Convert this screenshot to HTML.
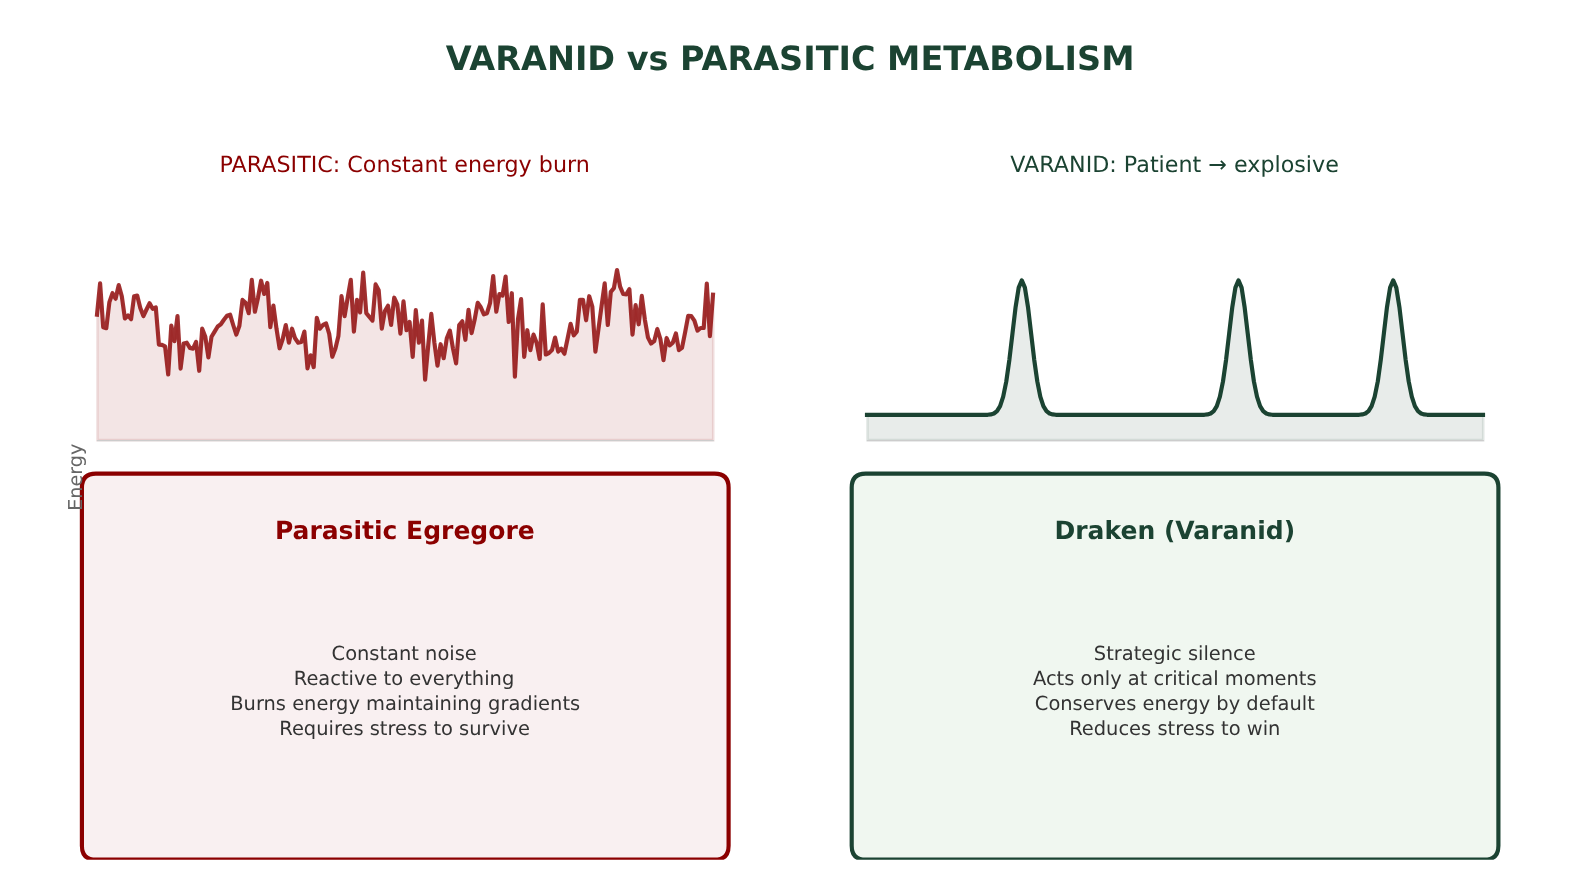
<!DOCTYPE html>
<html lang="en"><head><meta charset="utf-8"><title>VARANID vs PARASITIC METABOLISM</title>
<style>
html,body{margin:0;padding:0;background:#fff;}
body{width:1580px;height:880px;overflow:hidden;}
svg{display:block;will-change:transform;}
text{font-family:'DejaVu Sans','Liberation Sans',sans-serif;text-rendering:geometricPrecision;}
</style></head><body>
<svg width="1580" height="880" viewBox="0 0 1580 880">
<rect width="1580" height="880" fill="#ffffff"/>
<text x="790.1" y="70.0" text-anchor="middle" font-size="33.46" font-weight="bold" fill="#1b4332">VARANID vs PARASITIC METABOLISM</text>

<text x="404.7" y="171.6" text-anchor="middle" font-size="22.22" fill="#8b0000">PARASITIC: Constant energy burn</text>
<text x="1174.6" y="171.6" text-anchor="middle" font-size="22.22" fill="#1b4332">VARANID: Patient → explosive</text>


<polygon points="97.4,440.2 97.4,314.7 97.0,314.7 100.1,283.3 103.2,327.2 106.3,328.2 109.4,302.1 112.5,293.2 115.6,298.7 118.7,285.1 121.8,296.2 124.9,318.4 128.0,315.4 131.1,319.1 134.1,296.2 137.2,295.5 140.3,308.0 143.4,316.1 146.5,309.5 149.6,303.3 152.7,308.8 155.8,307.3 158.9,344.6 162.0,344.9 165.1,346.4 168.2,374.5 171.3,325.7 174.4,341.2 177.5,316.1 180.6,368.6 183.7,343.5 186.8,342.7 189.9,347.9 193.0,348.6 196.1,342.0 199.2,370.8 202.2,328.7 205.3,336.8 208.4,357.5 211.5,336.8 214.6,331.6 217.7,326.5 220.8,324.3 223.9,319.8 227.0,315.8 230.1,314.7 233.2,325.0 236.3,334.6 239.4,325.7 242.5,299.9 245.6,302.8 248.7,313.2 251.8,279.9 254.9,311.7 258.0,297.7 261.1,280.7 264.2,294.0 267.3,282.9 270.3,327.2 273.4,305.5 276.5,328.7 279.6,348.3 282.7,339.0 285.8,325.0 288.9,342.7 292.0,328.7 295.1,338.3 298.2,342.7 301.3,342.0 304.4,331.6 307.5,368.3 310.6,355.3 313.7,367.1 316.8,317.9 319.9,328.7 323.0,325.0 326.1,323.5 329.2,333.9 332.3,356.8 335.4,348.6 338.4,336.1 341.5,296.2 344.6,316.1 347.7,297.7 350.8,279.9 353.9,331.6 357.0,299.9 360.1,312.4 363.2,272.6 366.3,313.2 369.4,316.9 372.5,320.6 375.6,284.4 378.7,290.3 381.8,328.7 384.9,311.0 388.0,305.8 391.1,325.0 394.2,297.7 397.3,304.3 400.4,333.6 403.5,301.4 406.5,330.2 409.6,322.0 412.7,356.8 415.8,310.2 418.9,342.7 422.0,320.6 425.1,379.7 428.2,345.7 431.3,313.9 434.4,342.7 437.5,365.6 440.6,344.2 443.7,358.2 446.8,338.3 449.9,330.6 453.0,348.6 456.1,363.4 459.2,325.0 462.3,321.3 465.4,339.8 468.5,309.9 471.6,333.1 474.6,319.8 477.7,302.8 480.8,307.3 483.9,314.4 487.0,313.2 490.1,302.8 493.2,276.0 496.3,311.7 499.4,294.0 502.5,295.5 505.6,276.5 508.7,322.0 511.8,293.2 514.9,376.7 518.0,319.1 521.1,299.1 524.2,356.8 527.3,330.2 530.4,350.1 533.5,334.6 536.6,342.7 539.7,359.0 542.7,304.3 545.8,354.5 548.9,353.1 552.0,350.1 555.1,337.6 558.2,351.6 561.3,348.6 564.4,353.8 567.5,339.0 570.6,323.8 573.7,335.3 576.8,331.6 579.9,299.9 583.0,299.9 586.1,320.3 589.2,296.2 592.3,306.5 595.4,351.6 598.5,328.7 601.6,305.8 604.7,283.3 607.8,325.0 610.8,291.8 613.9,288.1 617.0,270.0 620.1,286.6 623.2,294.0 626.3,294.3 629.4,289.2 632.5,334.6 635.6,305.1 638.7,324.3 641.8,295.9 644.9,319.8 648.0,337.6 651.1,343.5 654.2,341.2 657.3,329.1 660.4,339.0 663.5,360.2 666.6,338.0 669.7,345.4 672.8,342.7 675.9,333.4 678.9,350.1 682.0,347.9 685.1,332.4 688.2,315.8 691.3,316.1 694.4,320.6 697.5,330.6 700.6,328.0 703.7,328.0 706.8,283.6 709.9,336.1 713.0,294.7 713.3,294.7 713.3,440.2" fill="#8b0000" fill-opacity="0.1" stroke="#8b0000" stroke-opacity="0.1" stroke-width="2.78" stroke-linejoin="miter"/>
<line x1="96.9" y1="440.55" x2="713.9" y2="440.55" stroke="#cccccc" stroke-width="1.25"/>
<polyline points="97.0,314.7 100.1,283.3 103.2,327.2 106.3,328.2 109.4,302.1 112.5,293.2 115.6,298.7 118.7,285.1 121.8,296.2 124.9,318.4 128.0,315.4 131.1,319.1 134.1,296.2 137.2,295.5 140.3,308.0 143.4,316.1 146.5,309.5 149.6,303.3 152.7,308.8 155.8,307.3 158.9,344.6 162.0,344.9 165.1,346.4 168.2,374.5 171.3,325.7 174.4,341.2 177.5,316.1 180.6,368.6 183.7,343.5 186.8,342.7 189.9,347.9 193.0,348.6 196.1,342.0 199.2,370.8 202.2,328.7 205.3,336.8 208.4,357.5 211.5,336.8 214.6,331.6 217.7,326.5 220.8,324.3 223.9,319.8 227.0,315.8 230.1,314.7 233.2,325.0 236.3,334.6 239.4,325.7 242.5,299.9 245.6,302.8 248.7,313.2 251.8,279.9 254.9,311.7 258.0,297.7 261.1,280.7 264.2,294.0 267.3,282.9 270.3,327.2 273.4,305.5 276.5,328.7 279.6,348.3 282.7,339.0 285.8,325.0 288.9,342.7 292.0,328.7 295.1,338.3 298.2,342.7 301.3,342.0 304.4,331.6 307.5,368.3 310.6,355.3 313.7,367.1 316.8,317.9 319.9,328.7 323.0,325.0 326.1,323.5 329.2,333.9 332.3,356.8 335.4,348.6 338.4,336.1 341.5,296.2 344.6,316.1 347.7,297.7 350.8,279.9 353.9,331.6 357.0,299.9 360.1,312.4 363.2,272.6 366.3,313.2 369.4,316.9 372.5,320.6 375.6,284.4 378.7,290.3 381.8,328.7 384.9,311.0 388.0,305.8 391.1,325.0 394.2,297.7 397.3,304.3 400.4,333.6 403.5,301.4 406.5,330.2 409.6,322.0 412.7,356.8 415.8,310.2 418.9,342.7 422.0,320.6 425.1,379.7 428.2,345.7 431.3,313.9 434.4,342.7 437.5,365.6 440.6,344.2 443.7,358.2 446.8,338.3 449.9,330.6 453.0,348.6 456.1,363.4 459.2,325.0 462.3,321.3 465.4,339.8 468.5,309.9 471.6,333.1 474.6,319.8 477.7,302.8 480.8,307.3 483.9,314.4 487.0,313.2 490.1,302.8 493.2,276.0 496.3,311.7 499.4,294.0 502.5,295.5 505.6,276.5 508.7,322.0 511.8,293.2 514.9,376.7 518.0,319.1 521.1,299.1 524.2,356.8 527.3,330.2 530.4,350.1 533.5,334.6 536.6,342.7 539.7,359.0 542.7,304.3 545.8,354.5 548.9,353.1 552.0,350.1 555.1,337.6 558.2,351.6 561.3,348.6 564.4,353.8 567.5,339.0 570.6,323.8 573.7,335.3 576.8,331.6 579.9,299.9 583.0,299.9 586.1,320.3 589.2,296.2 592.3,306.5 595.4,351.6 598.5,328.7 601.6,305.8 604.7,283.3 607.8,325.0 610.8,291.8 613.9,288.1 617.0,270.0 620.1,286.6 623.2,294.0 626.3,294.3 629.4,289.2 632.5,334.6 635.6,305.1 638.7,324.3 641.8,295.9 644.9,319.8 648.0,337.6 651.1,343.5 654.2,341.2 657.3,329.1 660.4,339.0 663.5,360.2 666.6,338.0 669.7,345.4 672.8,342.7 675.9,333.4 678.9,350.1 682.0,347.9 685.1,332.4 688.2,315.8 691.3,316.1 694.4,320.6 697.5,330.6 700.6,328.0 703.7,328.0 706.8,283.6 709.9,336.1 713.0,294.7" fill="none" stroke="#8b0000" stroke-opacity="0.8" stroke-width="4.17" stroke-linejoin="round" stroke-linecap="square"/>

<polygon points="867.4,440.2 867.4,414.9 867.0,414.9 870.1,414.9 873.2,414.9 876.3,414.9 879.4,414.9 882.5,414.9 885.6,414.9 888.7,414.9 891.8,414.9 894.9,414.9 898.0,414.9 901.1,414.9 904.1,414.9 907.2,414.9 910.3,414.9 913.4,414.9 916.5,414.9 919.6,414.9 922.7,414.9 925.8,414.9 928.9,414.9 932.0,414.9 935.1,414.9 938.2,414.9 941.3,414.9 944.4,414.9 947.5,414.9 950.6,414.9 953.7,414.9 956.8,414.9 959.9,414.9 963.0,414.9 966.1,414.9 969.2,414.9 972.2,414.9 975.3,414.9 978.4,414.9 981.5,414.9 984.6,414.9 987.7,414.8 990.8,414.4 993.9,413.5 997.0,411.1 1000.1,406.1 1003.2,396.7 1006.3,381.4 1009.4,359.6 1012.5,333.3 1015.6,307.1 1018.7,287.6 1021.8,280.3 1024.9,287.6 1028.0,307.1 1031.1,333.3 1034.2,359.6 1037.3,381.4 1040.3,396.7 1043.4,406.1 1046.5,411.1 1049.6,413.5 1052.7,414.4 1055.8,414.8 1058.9,414.9 1062.0,414.9 1065.1,414.9 1068.2,414.9 1071.3,414.9 1074.4,414.9 1077.5,414.9 1080.6,414.9 1083.7,414.9 1086.8,414.9 1089.9,414.9 1093.0,414.9 1096.1,414.9 1099.2,414.9 1102.3,414.9 1105.4,414.9 1108.4,414.9 1111.5,414.9 1114.6,414.9 1117.7,414.9 1120.8,414.9 1123.9,414.9 1127.0,414.9 1130.1,414.9 1133.2,414.9 1136.3,414.9 1139.4,414.9 1142.5,414.9 1145.6,414.9 1148.7,414.9 1151.8,414.9 1154.9,414.9 1158.0,414.9 1161.1,414.9 1164.2,414.9 1167.3,414.9 1170.4,414.9 1173.5,414.9 1176.5,414.9 1179.6,414.9 1182.7,414.9 1185.8,414.9 1188.9,414.9 1192.0,414.9 1195.1,414.9 1198.2,414.9 1201.3,414.9 1204.4,414.8 1207.5,414.4 1210.6,413.5 1213.7,411.1 1216.8,406.1 1219.9,396.7 1223.0,381.4 1226.1,359.6 1229.2,333.3 1232.3,307.1 1235.4,287.6 1238.5,280.3 1241.6,287.6 1244.6,307.1 1247.7,333.3 1250.8,359.6 1253.9,381.4 1257.0,396.7 1260.1,406.1 1263.2,411.1 1266.3,413.5 1269.4,414.4 1272.5,414.8 1275.6,414.9 1278.7,414.9 1281.8,414.9 1284.9,414.9 1288.0,414.9 1291.1,414.9 1294.2,414.9 1297.3,414.9 1300.4,414.9 1303.5,414.9 1306.6,414.9 1309.7,414.9 1312.7,414.9 1315.8,414.9 1318.9,414.9 1322.0,414.9 1325.1,414.9 1328.2,414.9 1331.3,414.9 1334.4,414.9 1337.5,414.9 1340.6,414.9 1343.7,414.9 1346.8,414.9 1349.9,414.9 1353.0,414.9 1356.1,414.9 1359.2,414.8 1362.3,414.4 1365.4,413.5 1368.5,411.1 1371.6,406.1 1374.7,396.7 1377.8,381.4 1380.8,359.6 1383.9,333.3 1387.0,307.1 1390.1,287.6 1393.2,280.3 1396.3,287.6 1399.4,307.1 1402.5,333.3 1405.6,359.6 1408.7,381.4 1411.8,396.7 1414.9,406.1 1418.0,411.1 1421.1,413.5 1424.2,414.4 1427.3,414.8 1430.4,414.9 1433.5,414.9 1436.6,414.9 1439.7,414.9 1442.8,414.9 1445.9,414.9 1448.9,414.9 1452.0,414.9 1455.1,414.9 1458.2,414.9 1461.3,414.9 1464.4,414.9 1467.5,414.9 1470.6,414.9 1473.7,414.9 1476.8,414.9 1479.9,414.9 1483.0,414.9 1483.3,414.9 1483.3,440.2" fill="#1b4332" fill-opacity="0.1" stroke="#1b4332" stroke-opacity="0.1" stroke-width="2.78" stroke-linejoin="miter"/>
<line x1="866.9" y1="440.55" x2="1483.9" y2="440.55" stroke="#cccccc" stroke-width="1.25"/>
<polyline points="867.0,414.9 870.1,414.9 873.2,414.9 876.3,414.9 879.4,414.9 882.5,414.9 885.6,414.9 888.7,414.9 891.8,414.9 894.9,414.9 898.0,414.9 901.1,414.9 904.1,414.9 907.2,414.9 910.3,414.9 913.4,414.9 916.5,414.9 919.6,414.9 922.7,414.9 925.8,414.9 928.9,414.9 932.0,414.9 935.1,414.9 938.2,414.9 941.3,414.9 944.4,414.9 947.5,414.9 950.6,414.9 953.7,414.9 956.8,414.9 959.9,414.9 963.0,414.9 966.1,414.9 969.2,414.9 972.2,414.9 975.3,414.9 978.4,414.9 981.5,414.9 984.6,414.9 987.7,414.8 990.8,414.4 993.9,413.5 997.0,411.1 1000.1,406.1 1003.2,396.7 1006.3,381.4 1009.4,359.6 1012.5,333.3 1015.6,307.1 1018.7,287.6 1021.8,280.3 1024.9,287.6 1028.0,307.1 1031.1,333.3 1034.2,359.6 1037.3,381.4 1040.3,396.7 1043.4,406.1 1046.5,411.1 1049.6,413.5 1052.7,414.4 1055.8,414.8 1058.9,414.9 1062.0,414.9 1065.1,414.9 1068.2,414.9 1071.3,414.9 1074.4,414.9 1077.5,414.9 1080.6,414.9 1083.7,414.9 1086.8,414.9 1089.9,414.9 1093.0,414.9 1096.1,414.9 1099.2,414.9 1102.3,414.9 1105.4,414.9 1108.4,414.9 1111.5,414.9 1114.6,414.9 1117.7,414.9 1120.8,414.9 1123.9,414.9 1127.0,414.9 1130.1,414.9 1133.2,414.9 1136.3,414.9 1139.4,414.9 1142.5,414.9 1145.6,414.9 1148.7,414.9 1151.8,414.9 1154.9,414.9 1158.0,414.9 1161.1,414.9 1164.2,414.9 1167.3,414.9 1170.4,414.9 1173.5,414.9 1176.5,414.9 1179.6,414.9 1182.7,414.9 1185.8,414.9 1188.9,414.9 1192.0,414.9 1195.1,414.9 1198.2,414.9 1201.3,414.9 1204.4,414.8 1207.5,414.4 1210.6,413.5 1213.7,411.1 1216.8,406.1 1219.9,396.7 1223.0,381.4 1226.1,359.6 1229.2,333.3 1232.3,307.1 1235.4,287.6 1238.5,280.3 1241.6,287.6 1244.6,307.1 1247.7,333.3 1250.8,359.6 1253.9,381.4 1257.0,396.7 1260.1,406.1 1263.2,411.1 1266.3,413.5 1269.4,414.4 1272.5,414.8 1275.6,414.9 1278.7,414.9 1281.8,414.9 1284.9,414.9 1288.0,414.9 1291.1,414.9 1294.2,414.9 1297.3,414.9 1300.4,414.9 1303.5,414.9 1306.6,414.9 1309.7,414.9 1312.7,414.9 1315.8,414.9 1318.9,414.9 1322.0,414.9 1325.1,414.9 1328.2,414.9 1331.3,414.9 1334.4,414.9 1337.5,414.9 1340.6,414.9 1343.7,414.9 1346.8,414.9 1349.9,414.9 1353.0,414.9 1356.1,414.9 1359.2,414.8 1362.3,414.4 1365.4,413.5 1368.5,411.1 1371.6,406.1 1374.7,396.7 1377.8,381.4 1380.8,359.6 1383.9,333.3 1387.0,307.1 1390.1,287.6 1393.2,280.3 1396.3,287.6 1399.4,307.1 1402.5,333.3 1405.6,359.6 1408.7,381.4 1411.8,396.7 1414.9,406.1 1418.0,411.1 1421.1,413.5 1424.2,414.4 1427.3,414.8 1430.4,414.9 1433.5,414.9 1436.6,414.9 1439.7,414.9 1442.8,414.9 1445.9,414.9 1448.9,414.9 1452.0,414.9 1455.1,414.9 1458.2,414.9 1461.3,414.9 1464.4,414.9 1467.5,414.9 1470.6,414.9 1473.7,414.9 1476.8,414.9 1479.9,414.9 1483.0,414.9" fill="none" stroke="#1b4332" stroke-width="4.17" stroke-linejoin="round" stroke-linecap="square"/>

<clipPath id="axclip"><rect x="0" y="0" width="1580" height="859.7"/></clipPath>
<g clip-path="url(#axclip)">
<path d="M95.9,473.6 L714.6,473.6 Q728.6,473.6 728.6,487.6 L728.6,845.7 Q728.6,859.7 714.6,859.7 L95.9,859.7 Q81.9,859.7 81.9,845.7 L81.9,487.6 Q81.9,473.6 95.9,473.6 Z" fill="#f9f0f1" stroke="#8b0000" stroke-width="4.17"/>
<path d="M865.7,473.6 L1484.4,473.6 Q1498.4,473.6 1498.4,487.6 L1498.4,845.7 Q1498.4,859.7 1484.4,859.7 L865.7,859.7 Q851.7,859.7 851.7,845.7 L851.7,487.6 Q851.7,473.6 865.7,473.6 Z" fill="#f0f7f0" stroke="#1b4332" stroke-width="4.17"/>
</g>
<text transform="translate(82.0,477.3) rotate(-90)" text-anchor="middle" font-size="19.15" fill="#666666">Energy</text>

<text x="404.8" y="539" text-anchor="middle" font-size="25" font-weight="bold" fill="#8b0000">Parasitic Egregore</text>
<text x="1174.8" y="539" text-anchor="middle" font-size="25" font-weight="bold" fill="#1b4332">Draken (Varanid)</text>

<text text-anchor="middle" font-size="19.44" fill="#333333"><tspan x="404.2" y="659.6">Constant noise</tspan><tspan x="404.0" y="684.6">Reactive to everything</tspan><tspan x="405.2" y="709.7">Burns energy maintaining gradients</tspan><tspan x="404.6" y="734.8">Requires stress to survive</tspan></text>
<text text-anchor="middle" font-size="19.44" fill="#333333"><tspan x="1174.8" y="659.6">Strategic silence</tspan><tspan x="1174.8" y="684.6">Acts only at critical moments</tspan><tspan x="1174.8" y="709.7">Conserves energy by default</tspan><tspan x="1174.8" y="734.8">Reduces stress to win</tspan></text>
</svg>
</body></html>
